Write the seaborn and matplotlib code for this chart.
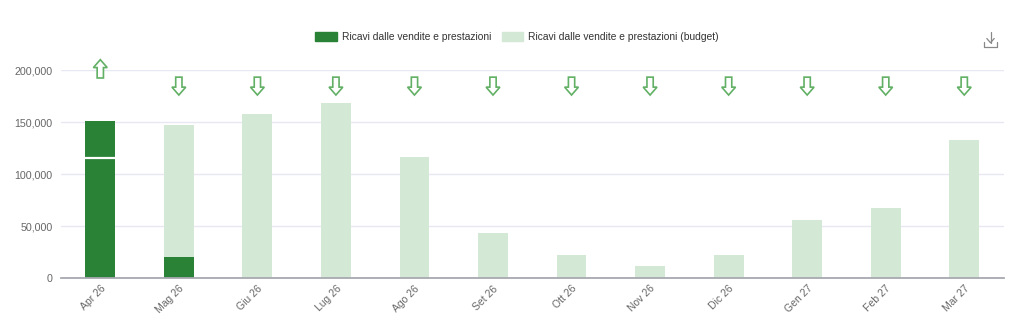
import matplotlib
matplotlib.use("Agg")
import matplotlib.pyplot as plt
import seaborn as sns
import pandas as pd
from matplotlib.ticker import FuncFormatter
from matplotlib.lines import Line2D
from matplotlib.patches import Patch, Polygon
from matplotlib.transforms import blended_transform_factory

# Monthly revenue: actual vs budget
months = ["Apr 26", "Mag 26", "Giu 26", "Lug 26", "Ago 26", "Set 26",
          "Ott 26", "Nov 26", "Dic 26", "Gen 27", "Feb 27", "Mar 27"]
actual = [151000, 20000, 0, 0, 0, 0, 0, 0, 0, 0, 0, 0]
budget = [115000, 147000, 158000, 168000, 116000, 43000,
          22000, 11500, 22000, 56000, 67000, 133000]
y_ticks = [0, 50000, 100000, 150000, 200000]

label_actual = "Ricavi dalle vendite e prestazioni"
label_budget = "Ricavi dalle vendite e prestazioni (budget)"

DARK = "#2a8236"
LIGHT = "#d4e8d6"
ARROW = "#62b065"
GRID = "#e8e8f2"
TEXT = "#666666"

sns.set_theme(style="white")
plt.rcParams["font.family"] = ["Liberation Sans", "DejaVu Sans"]

df_budget = pd.DataFrame({"mese": months, "valore": budget})
df_actual = pd.DataFrame({"mese": months, "valore": actual})

fig = plt.figure(figsize=(10.24, 3.29), dpi=100)
ax = fig.add_axes([0.0596, 0.155, 0.9204, 0.632])

sns.barplot(data=df_budget, x="mese", y="valore", color=LIGHT, width=0.38,
            saturation=1, ax=ax, zorder=2, linewidth=0)
sns.barplot(data=df_actual, x="mese", y="valore", color=DARK, width=0.38,
            saturation=1, ax=ax, zorder=3, linewidth=0)

# budget marker inside bars that exceed it
for i, (a, b) in enumerate(zip(actual, budget)):
    if a > b:
        ax.hlines(b, i - 0.19, i + 0.19, color="white", lw=1.6, zorder=4)

# variance arrows above each month (x in data units, y in axes fraction)
trans = blended_transform_factory(ax.transData, ax.transAxes)
hw, sw = 0.088, 0.040      # half widths of head and shaft
for i, (a, b) in enumerate(zip(actual, budget)):
    if a > b:
        base, tip, neck = 0.962, 1.050, 1.012
    else:
        base, tip, neck = 0.966, 0.880, 0.918
    pts = [(i - sw, base), (i - sw, neck), (i - hw, neck), (i, tip),
           (i + hw, neck), (i + sw, neck), (i + sw, base)]
    ax.add_patch(Polygon(pts, closed=True, transform=trans, facecolor="white",
                         edgecolor=ARROW, lw=1.2, clip_on=False, zorder=5,
                         joinstyle="miter"))

ax.set_xlim(-0.5, len(months) - 0.5)
ax.set_ylim(0, 200000)
ax.set_yticks(y_ticks)
ax.yaxis.set_major_formatter(FuncFormatter(lambda v, p: f"{int(v):,}"))
ax.set_xlabel("")
ax.set_ylabel("")
ax.grid(axis="y", color=GRID, lw=1, zorder=0)
ax.grid(axis="x", visible=False)
for s in ["top", "right", "left"]:
    ax.spines[s].set_visible(False)
ax.spines["bottom"].set_color("#a8a8b0")
ax.spines["bottom"].set_linewidth(1.3)
ax.spines["bottom"].set_zorder(6)

ax.tick_params(axis="y", length=0, labelsize=7.7, labelcolor=TEXT, pad=6)
ax.set_xticks(range(len(months)))
ax.set_xticklabels(months, rotation=45, ha="right", rotation_mode="anchor",
                   fontsize=7.5, color=TEXT)
ax.tick_params(axis="x", length=0, pad=4)
ax.set_xticks([i - 0.5 for i in range(len(months))], minor=True)
ax.tick_params(axis="x", which="minor", length=4, width=1, color="#a8a8b0",
               direction="out")

# legend
leg = fig.legend(handles=[Patch(facecolor=DARK, edgecolor=DARK),
                          Patch(facecolor=LIGHT, edgecolor=LIGHT)],
                 labels=[label_actual, label_budget], loc="center",
                 bbox_to_anchor=(0.505, 0.888), ncol=2, frameon=False,
                 fontsize=7.4, handlelength=2.1, handleheight=1.0,
                 handletextpad=0.5, columnspacing=1.0)
for t in leg.get_texts():
    t.set_color("#333333")

# download icon
ic = "#888888"
x0, y0 = 0.9605, 0.858
fig.add_artist(Line2D([x0 + 0.0068, x0 + 0.0068], [y0 + 0.046, y0 + 0.012],
                      transform=fig.transFigure, color=ic, lw=0.9))
fig.add_artist(Line2D([x0 + 0.0032, x0 + 0.0068, x0 + 0.0104],
                      [y0 + 0.025, y0 + 0.012, y0 + 0.025],
                      transform=fig.transFigure, color=ic, lw=0.9))
fig.add_artist(Line2D([x0, x0, x0 + 0.0136, x0 + 0.0136],
                      [y0 + 0.013, y0, y0, y0 + 0.013],
                      transform=fig.transFigure, color=ic, lw=0.9))

fig.savefig("out.png", dpi=100, facecolor="white")
